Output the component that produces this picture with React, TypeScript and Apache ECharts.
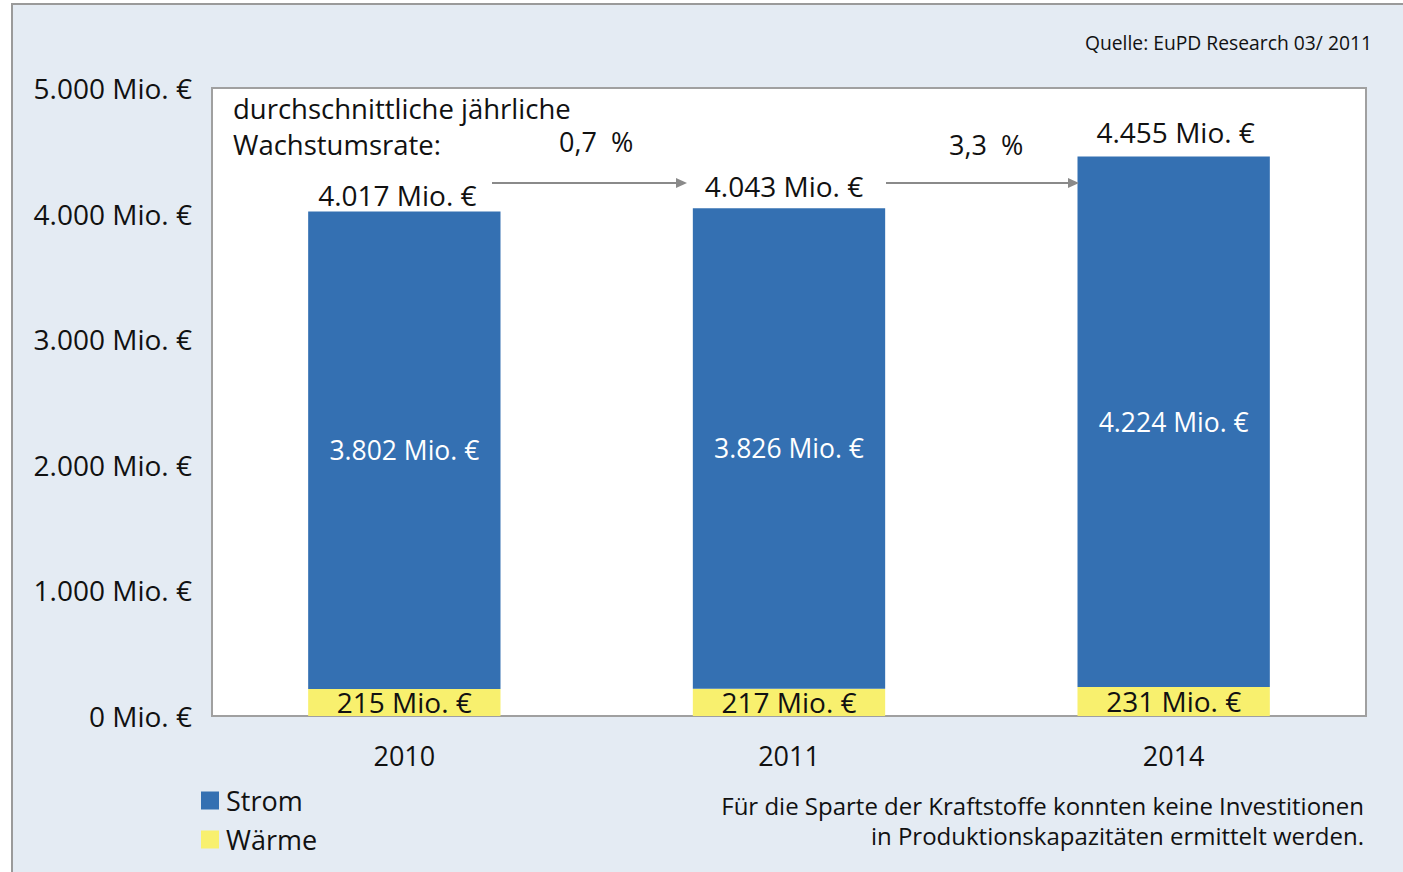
import React, { useEffect, useRef } from "react";
import * as echarts from "echarts";

const categories = ["2010", "2011", "2014"];
const stromValues = [3802, 3826, 4224];
const waermeValues = [215, 217, 231];
const totalValues = [4017, 4043, 4455];
const growthRates = ["0,7  %", "3,3  %"];
const yTicks = [0, 1000, 2000, 3000, 4000, 5000];

const FONT = "'Open Sans', 'Noto Sans', sans-serif";

const fmt = (v: number) =>
  String(v).replace(/\B(?=(\d{3})+(?!\d))/g, ".") + " Mio. €";

export default function App() {
  const ref = useRef<HTMLDivElement>(null);
  useEffect(() => {
    document.body.style.margin = "0";
    const chart = echarts.init(ref.current!, undefined, { renderer: "svg" });
    const totalLabelDist = [2.5, 8.5, 10.5];
    const totalLabelShift = [-7, -5, 2];
    const option: any = {
      animation: false,
      backgroundColor: "#ffffff",
      textStyle: { fontFamily: FONT },
      grid: {
        left: 212,
        top: 88,
        width: 1154,
        height: 628,
        show: true,
        backgroundColor: "#ffffff",
        borderColor: "#a0a0a0",
        borderWidth: 2,
        z: 1,
      },
      legend: {
        orient: "vertical",
        left: 196,
        top: 782,
        itemWidth: 18,
        itemHeight: 18,
        itemGap: 12,
        icon: "rect",
        data: ["Strom", "Wärme"],
        textStyle: { fontSize: 27, lineHeight: 20, color: "#111", fontFamily: FONT, padding: [0, 0, 0, 2] },
      },
      xAxis: {
        type: "category",
        data: categories,
        axisLine: { show: false },
        axisTick: { show: false },
        axisLabel: { fontSize: 27, color: "#111", margin: 26, fontFamily: FONT },
      },
      yAxis: {
        type: "value",
        min: yTicks[0],
        max: yTicks[yTicks.length - 1],
        interval: 1000,
        axisLine: { show: false },
        axisTick: { show: false },
        splitLine: { lineStyle: { color: "#dcdcdc", width: 1.5 } },
        axisLabel: {
          fontSize: 28,
          color: "#111",
          margin: 20,
          fontFamily: FONT,
          formatter: (v: number) => fmt(v),
        },
      },
      series: [
        {
          name: "Wärme",
          type: "bar",
          stack: "total",
          barWidth: "50%",
          data: waermeValues,
          itemStyle: { color: "#f8f06e" },
          label: {
            show: true,
            position: "inside",
            color: "#111",
            fontSize: 28,
            fontFamily: FONT,
            formatter: (p: any) => fmt(p.value),
          },
        },
        {
          name: "Strom",
          type: "bar",
          stack: "total",
          barWidth: "50%",
          data: stromValues,
          itemStyle: { color: "#3470b2" },
          label: {
            show: true,
            position: "inside",
            color: "#ffffff",
            fontSize: 26.5,
            fontFamily: FONT,
            formatter: (p: any) => fmt(p.value),
          },
        },
        {
          name: "Gesamt",
          type: "bar",
          stack: "total",
          barWidth: "50%",
          data: totalValues.map((_, i) => ({
            value: 0,
            label: { distance: totalLabelDist[i], offset: [totalLabelShift[i], 0] },
          })),
          itemStyle: { color: "transparent" },
          label: {
            show: true,
            position: "top",
            color: "#111",
            fontSize: 28,
            fontFamily: FONT,
            formatter: (p: any) => fmt(totalValues[p.dataIndex]),
          },
        },
      ],
      graphic: [
        {
          type: "rect",
          z: -10,
          silent: true,
          shape: { x: 12, y: 4, width: 1420, height: 900 },
          style: { fill: "#e4ebf3", stroke: "#9a9a9a", lineWidth: 2 },
        },
        {
          type: "text",
          right: 31,
          top: 33,
          style: { text: "Quelle: EuPD Research 03/ 2011", fontSize: 19.3, fill: "#111", fontFamily: FONT },
        },
        {
          type: "text",
          left: 233,
          top: 90,
          z: 10,
          style: {
            text: "durchschnittliche jährliche\nWachstumsrate:",
            fontSize: 27.5,
            lineHeight: 36,
            fill: "#111",
            fontFamily: FONT,
          },
        },
        {
          type: "text",
          left: 559,
          top: 128,
          z: 10,
          style: { text: growthRates[0], fontSize: 27, fill: "#111", fontFamily: FONT },
        },
        {
          type: "text",
          left: 949,
          top: 131,
          z: 10,
          style: { text: growthRates[1], fontSize: 27, fill: "#111", fontFamily: FONT },
        },
        {
          type: "line",
          z: 10,
          shape: { x1: 492, y1: 183, x2: 678, y2: 183 },
          style: { stroke: "#8a8a8a", lineWidth: 2 },
        },
        {
          type: "polygon",
          z: 10,
          shape: { points: [[676, 178], [687, 183], [676, 188]] },
          style: { fill: "#8a8a8a" },
        },
        {
          type: "line",
          z: 10,
          shape: { x1: 886, y1: 183, x2: 1070, y2: 183 },
          style: { stroke: "#8a8a8a", lineWidth: 2 },
        },
        {
          type: "polygon",
          z: 10,
          shape: { points: [[1068, 178], [1079, 183], [1068, 188]] },
          style: { fill: "#8a8a8a" },
        },
        {
          type: "text",
          right: 39,
          top: 793,
          style: {
            text: "Für die Sparte der Kraftstoffe konnten keine Investitionen",
            fontSize: 24,
            fill: "#111",
            fontFamily: FONT,
          },
        },
        {
          type: "text",
          right: 39,
          top: 823,
          style: {
            text: "in Produktionskapazitäten ermittelt werden.",
            fontSize: 24,
            fill: "#111",
            fontFamily: FONT,
          },
        },
      ],
    };
    chart.setOption(option);
    return () => chart.dispose();
  }, []);
  return <div ref={ref} style={{ width: 1403, height: 872 }} />;
}
